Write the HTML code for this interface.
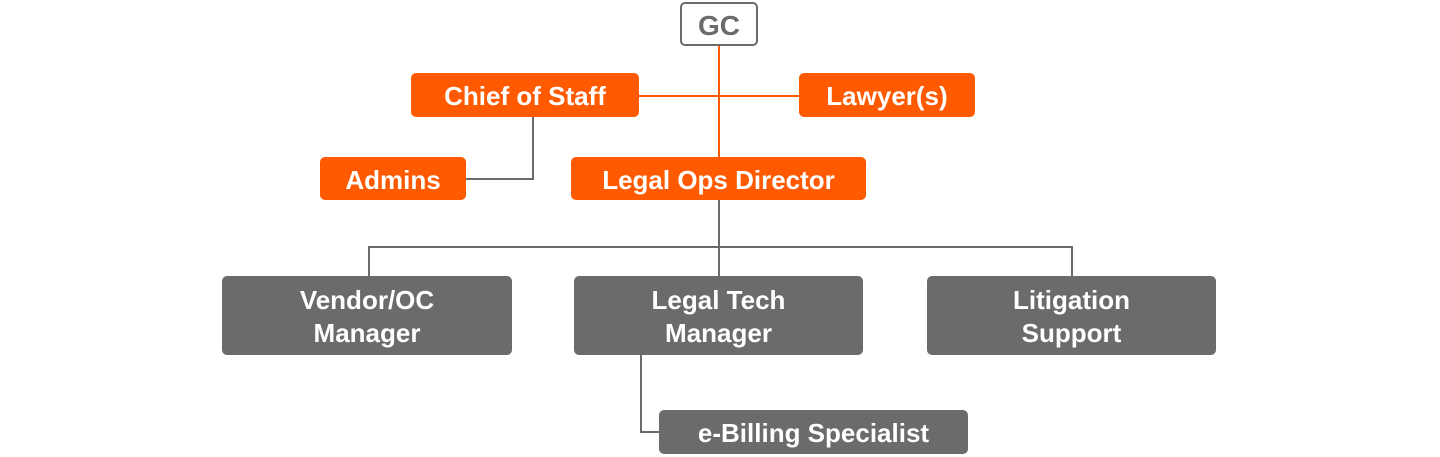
<!DOCTYPE html>
<html><head><style>
body{margin:0;width:1440px;height:457px;background:#fff;position:relative;overflow:hidden;font-family:"Liberation Sans",sans-serif}
.b{position:absolute;display:flex;align-items:center;justify-content:center;text-align:center;color:#fff;font-weight:bold;font-size:26px;line-height:33px;border-radius:5px;box-sizing:border-box;padding-top:3px}
.o{background:#ff5a00}
.g{background:#6b6b6b}
.l{position:absolute}
</style></head><body>
<div class="l" style="left:718px;top:45px;width:2px;height:112px;background:#ff5a00"></div>
<div class="l" style="left:639px;top:95px;width:160px;height:2px;background:#ff5a00"></div>
<div class="l" style="left:532px;top:117px;width:2px;height:63px;background:#6b6b6b"></div>
<div class="l" style="left:466px;top:178px;width:68px;height:2px;background:#6b6b6b"></div>
<div class="l" style="left:718px;top:200px;width:2px;height:76px;background:#6b6b6b"></div>
<div class="l" style="left:368px;top:246px;width:705px;height:2px;background:#6b6b6b"></div>
<div class="l" style="left:368px;top:246px;width:2px;height:30px;background:#6b6b6b"></div>
<div class="l" style="left:1071px;top:246px;width:2px;height:30px;background:#6b6b6b"></div>
<div class="l" style="left:640px;top:355px;width:2px;height:78px;background:#6b6b6b"></div>
<div class="l" style="left:640px;top:431px;width:20px;height:2px;background:#6b6b6b"></div>

<div class="b" style="left:680px;top:2px;width:78px;height:44px;background:#fff;border:2px solid #6b6b6b;color:#6b6b6b;font-size:28px">GC</div>
<div class="b o" style="left:411px;top:73px;width:228px;height:44px">Chief of Staff</div>
<div class="b o" style="left:799px;top:73px;width:176px;height:44px">Lawyer(s)</div>
<div class="b o" style="left:320px;top:157px;width:146px;height:43px">Admins</div>
<div class="b o" style="left:571px;top:157px;width:295px;height:43px">Legal Ops Director</div>
<div class="b g" style="left:222px;top:276px;width:290px;height:79px">Vendor/OC<br>Manager</div>
<div class="b g" style="left:574px;top:276px;width:289px;height:79px">Legal Tech<br>Manager</div>
<div class="b g" style="left:927px;top:276px;width:289px;height:79px">Litigation<br>Support</div>
<div class="b g" style="left:659px;top:410px;width:309px;height:44px">e-Billing Specialist</div>
</body></html>
